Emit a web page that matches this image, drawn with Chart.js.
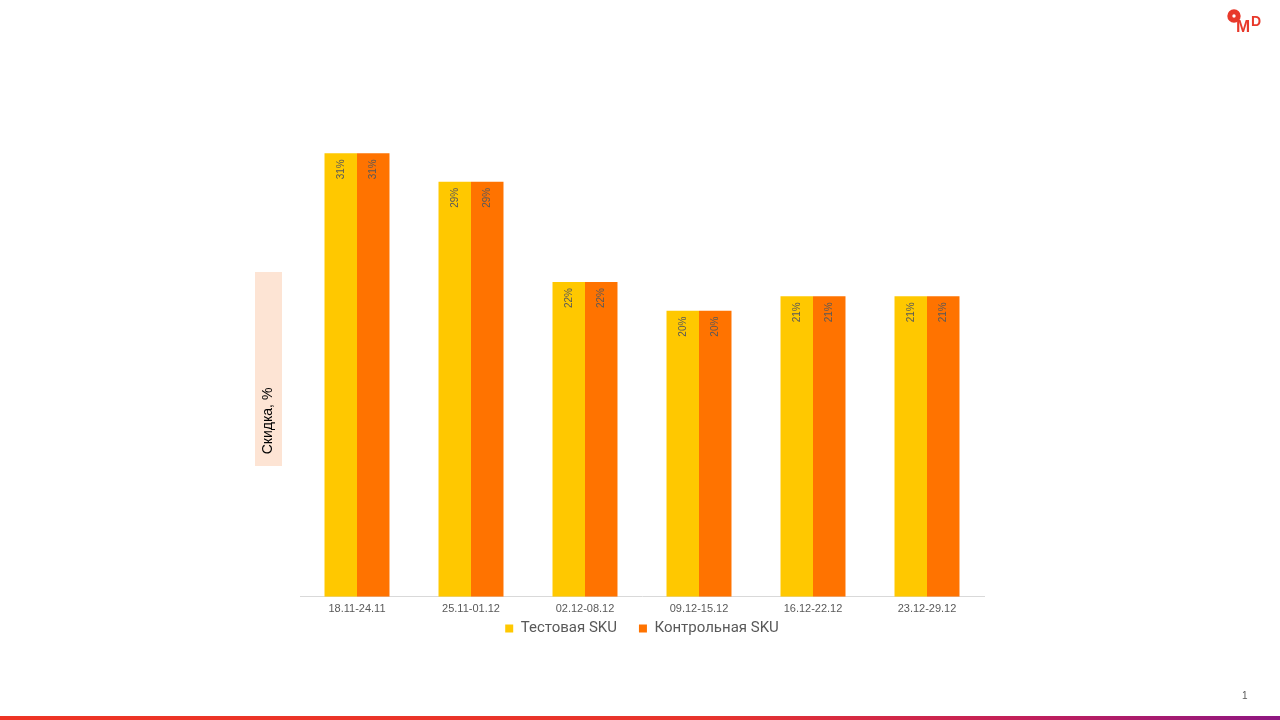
<!DOCTYPE html>
<html>
<head>
<meta charset="utf-8">
<script src="https://cdn.jsdelivr.net/npm/chart.js@4.4.0/dist/chart.umd.min.js"></script>
<style>
  html, body { margin: 0; padding: 0; background: #fff; }
  #wrap { position: relative; width: 1280px; height: 720px; }
</style>
</head>
<body>
<div id="wrap"><canvas id="barChart" width="1280" height="720"></canvas></div>
<script>
// chart data
const weeks = ['18.11-24.11', '25.11-01.12', '02.12-08.12', '09.12-15.12', '16.12-22.12', '23.12-29.12'];
const testSku = [31, 29, 22, 20, 21, 21];
const controlSku = [31, 29, 22, 20, 21, 21];
const seriesNames = ['Тестовая SKU', 'Контрольная SKU'];
const axisTitle = 'Скидка, %';

// rotated value labels at the top of every bar + page decorations
const decorPlugin = {
    id: 'decor',
    afterLayout(chart) {
        // legend sits a bit closer to the tick labels than the default
        if (chart.legend) {
            chart.legend.top -= 16;
            chart.legend.bottom -= 16;
        }
    },
    afterDatasetsDraw(chart) {
        const ctx = chart.ctx;
        ctx.save();
        ctx.fillStyle = '#595959';
        ctx.font = '10px "Liberation Sans", Arial, sans-serif';
        ctx.textAlign = 'right';
        ctx.textBaseline = 'middle';
        chart.data.datasets.forEach((ds, i) => {
            chart.getDatasetMeta(i).data.forEach((bar, j) => {
                ctx.save();
                ctx.translate(bar.x, bar.y + 6);
                ctx.rotate(-Math.PI / 2);
                ctx.fillText(ds.data[j] + '%', 0, 0);
                ctx.restore();
            });
        });
        ctx.restore();
    },
    afterDraw(chart) {
        const ctx = chart.ctx;
        ctx.save();
        // y axis title box
        ctx.fillStyle = '#fde4d4';
        ctx.fillRect(255, 272, 27, 194);
        ctx.fillStyle = '#000';
        ctx.font = '14px "Liberation Sans", Arial, sans-serif';
        ctx.textAlign = 'center';
        ctx.textBaseline = 'middle';
        ctx.translate(268, 421);
        ctx.rotate(-Math.PI / 2);
        ctx.fillText(axisTitle, 0, 0);
        ctx.restore();

        // OMD logo
        ctx.save();
        ctx.fillStyle = '#e8392b';
        ctx.strokeStyle = '#e8392b';
        ctx.lineWidth = 5;
        ctx.beginPath();
        ctx.arc(1234, 16, 4.2, 0, Math.PI * 2);
        ctx.stroke();
        ctx.font = 'bold 17px "Liberation Sans", Arial, sans-serif';
        ctx.textBaseline = 'alphabetic';
        ctx.fillText('M', 1236, 32);
        ctx.font = 'bold 14px "Liberation Sans", Arial, sans-serif';
        ctx.fillText('D', 1251, 26);

        // page number
        ctx.fillStyle = '#595959';
        ctx.font = '10px "Liberation Sans", Arial, sans-serif';
        ctx.textBaseline = 'middle';
        ctx.fillText('1', 1242, 696);

        // bottom stripe
        const g = ctx.createLinearGradient(0, 0, 1280, 0);
        g.addColorStop(0, '#ee3424');
        g.addColorStop(0.55, '#e8342c');
        g.addColorStop(0.8, '#c21f5a');
        g.addColorStop(1, '#8e1782');
        ctx.fillStyle = g;
        ctx.fillRect(0, 716, 1280, 4);
        ctx.restore();
    }
};

const ctx = document.getElementById('barChart').getContext('2d');
const barChart = new Chart(ctx, {
    type: 'bar',
    data: {
        labels: weeks,
        datasets: [{
            label: seriesNames[0],
            data: testSku,
            backgroundColor: '#ffc800',
            barPercentage: 1,
            categoryPercentage: 0.57
        }, {
            label: seriesNames[1],
            data: controlSku,
            backgroundColor: '#ff7300',
            barPercentage: 1,
            categoryPercentage: 0.57
        }]
    },
    options: {
        responsive: false,
        animation: false,
        layout: {
            padding: { left: 300, right: 296, top: 96, bottom: 58 }
        },
        plugins: {
            legend: {
                position: 'bottom',
                labels: {
                    boxWidth: 8,
                    boxHeight: 8,
                    padding: 22,
                    color: '#595959',
                    font: { family: 'Roboto, "Liberation Sans", sans-serif', size: 15 }
                }
            },
            tooltip: { enabled: false }
        },
        scales: {
            x: {
                grid: { display: false, drawTicks: false },
                border: { color: '#d9d9d9' },
                ticks: {
                    color: '#595959',
                    padding: 6,
                    font: { family: '"Liberation Sans Narrow", "Liberation Sans", sans-serif', size: 11 }
                },
                afterFit: function(scale) {
                    scale.height -= 7;
                }
            },
            y: {
                display: false,
                min: 0,
                max: 35
            }
        }
    },
    plugins: [decorPlugin]
});
</script>
</body>
</html>
